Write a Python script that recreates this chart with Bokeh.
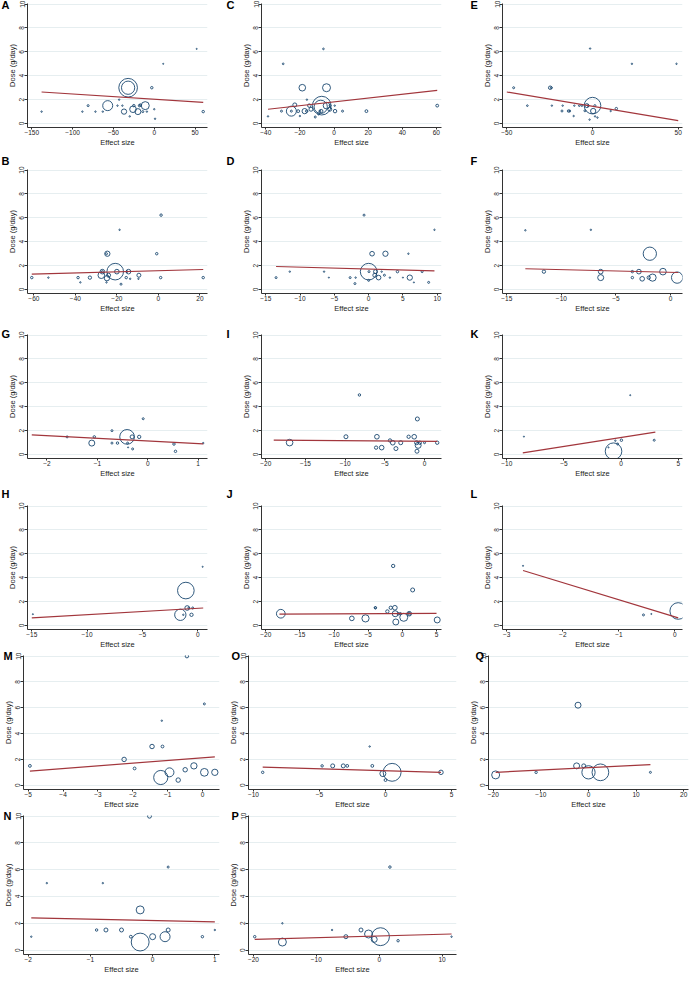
import math
from bokeh.plotting import figure
from bokeh.layouts import row, column
from bokeh.models import FixedTicker, Range1d
from bokeh.embed import file_html
from bokeh.resources import INLINE

# ---------------- data (effect size, dose g/day, study weight) ----------------
a_x = [-138, -88, -72, -81, -63, -57, -43, -45, -39, -37, -32, -32, -30, -25, -26, -20, -18, -17, -14, -11, -9, -3, 0, 1, 11, 52, 60]
a_y = [1, 1, 1, 1.5, 1, 1.5, 2, 1.5, 1.5, 1, 3, 3, 0.6, 1.5, 1.2, 1, 1.5, 1.55, 1, 1.5, 1, 3, 1.2, 0.4, 5, 6.25, 1]
a_w = [0.5, 0.5, 0.5, 1, 0.5, 25, 0.5, 0.5, 0.5, 7, 87, 44, 0.5, 1.5, 11, 9, 1.5, 1.5, 1, 16, 0.5, 1.5, 0.5, 0.5, 0.3, 0.3, 1.5]
a_fx = [-138, 60]
a_fy = [2.64, 1.78]
a_ticks = [-150, -100, -50, 0, 50]

c_x = [-38.7, -30.8, -29.8, -25, -25, -23, -21, -20, -18.6, -17.2, -16, -15.9, -14.5, -13.5, -11, -9, -8.3, -7.2, -7.8, -7.5, -6.2, -4.4, -4.4, -2.5, -2.3, 0.6, 0.4, 5, 19, 60.5]
c_y = [0.6, 1.04, 5.0, 1.04, 1.04, 1.56, 1.04, 0.63, 3.0, 1.04, 1.04, 2.0, 1.5, 1.2, 0.55, 0.8, 1.04, 1.5, 1.4, 1.04, 6.25, 3.0, 1.5, 1.2, 1.5, 1.04, 1.5, 1.04, 1.04, 1.5]
c_w = [0.5, 1, 0.7, 25, 1, 4, 2, 0.5, 11, 7, 1.5, 0.5, 3, 4, 1, 1, 1, 87, 44, 3, 0.7, 16, 11, 4, 1, 3, 0.5, 1, 2, 2]
c_fx = [-38.7, 60.5]
c_fy = [1.2, 2.77]
c_ticks = [-40, -20, 0, 20, 40, 60]

e_x = [-46, -38, -24.7, -24, -23.7, -17.8, -17.4, -14, -13.3, -11, -10.6, -7.7, -6.2, -4.4, -3.3, -2.5, -1.7, -1.4, 0, 0.4, 1.5, 2.9, 1.4, 10.6, 13.9, 23, 49]
e_y = [3, 1.5, 3, 3, 1.5, 1.05, 1.5, 1.05, 1.05, 0.63, 1.5, 1.5, 1.5, 1.07, 1.5, 1.5, 0.33, 6.28, 1.5, 1.05, 0.6, 0.5, 1.5, 1.05, 1.25, 5, 5]
e_w = [1, 0.7, 3, 1, 0.5, 1, 0.5, 1.5, 1, 0.5, 0.5, 0.7, 0.7, 1, 4, 1, 0.5, 0.5, 69, 7, 0.5, 0.5, 1, 0.5, 1.5, 0.5, 0.5]
e_fx = [-50, 50]
e_fy = [2.64, 0.25]
e_ticks = [-50, 0, 50]

b_x = [-61, -53, -38.7, -37.6, -33, -27, -27, -27.5, -24.6, -25, -25, -24.8, -24, -20.8, -20, -18.7, -18, -15.5, -14.4, -15.2, -13.6, -9.4, -9.6, -0.8, 1.3, 1.1, 21.6]
b_y = [1, 1, 1, 0.6, 1, 1.5, 1.5, 1.2, 3, 3, 0.6, 0.95, 1.2, 1.5, 1.5, 5, 0.45, 1, 1.5, 1.5, 0.9, 1.2, 0.9, 3, 6.23, 1, 1]
b_w = [1.5, 0.5, 1.5, 0.5, 2.8, 5.4, 1, 11, 7, 1, 0.5, 7, 4, 69, 5.4, 0.5, 1, 1.5, 5.4, 1, 0.5, 4, 0.5, 1.5, 1.5, 1.5, 1.5]
b_fx = [-61, 21.6]
b_fy = [1.29, 1.68]
b_ticks = [-60, -40, -20, 0, 20]

d_x = [-13.5, -11.5, -6.5, -5.8, -2.7, -2, -1.9, -0.67, 0, 0.05, 0, 0.5, 1.0, 0.9, 1.45, 1.9, 2.3, 2.45, 3.1, 4.2, 5, 5.8, 6.0, 6.6, 7.8, 8.75, 9.6]
d_y = [1, 1.5, 1.5, 1, 1, 0.5, 1, 6.23, 1.5, 1.5, 0.77, 3, 1.5, 1.2, 1, 1.5, 1.2, 3, 1, 1.5, 1, 3, 1, 0.6, 1.5, 0.6, 5]
d_w = [1, 0.5, 0.5, 0.3, 1, 1, 0.5, 1, 69, 1, 1, 5.4, 4, 4, 5.4, 0.5, 1, 7, 0.5, 1.5, 0.3, 0.5, 7, 0.3, 1, 1, 0.5]
d_fx = [-13.5, 9.6]
d_fy = [1.93, 1.57]
d_ticks = [-15, -10, -5, 0, 5, 10]

f_x = [-13.3, -11.6, -7.3, -6.4, -6.4, -3.5, -3.5, -2.9, -2.6, -2.0, -1.9, -1.65, -0.7, 0.6]
f_y = [4.96, 1.5, 5, 1.5, 1.0, 1.5, 1.0, 1.5, 0.9, 1.0, 3.0, 1.0, 1.5, 1.0]
f_w = [0.5, 2.8, 0.5, 5.4, 9, 1.5, 1.5, 5.4, 5.4, 2.8, 44, 13, 11, 32]
f_fx = [-13.3, 0.7]
f_fy = [1.74, 1.43]
f_ticks = [-15, -10, -5, 0]

g_x = [-1.6, -1.11, -1.06, -0.71, -0.71, -0.6, -0.41, -0.4, -0.39, -0.31, -0.3, -0.17, -0.09, 0.52, 0.55, 1.1]
g_y = [1.48, 0.96, 1.48, 2.0, 0.96, 0.96, 1.48, 0.96, 0.6, 1.48, 0.47, 1.48, 3.0, 0.88, 0.27, 0.96]
g_w = [1, 9, 1.5, 1, 1, 1.5, 54, 1, 0.3, 4, 1, 2.8, 1, 1.5, 1.5, 0.5]
g_fx = [-2.3, 1.1]
g_fy = [1.64, 0.9]
g_ticks = [-2, -1, 0, 1]

i_x = [-17.0, -9.9, -8.2, -6.1, -6.0, -5.4, -4.35, -4.0, -3.6, -3.0, -2.0, -1.3, -1.0, -0.9, -0.95, -0.8, -0.6, 0, 1.6]
i_y = [1.0, 1.49, 4.99, 0.58, 1.49, 0.58, 1.18, 0.99, 0.5, 0.99, 1.49, 1.49, 0.99, 2.98, 0.28, 0.77, 0.99, 0.99, 0.99]
i_w = [11, 4, 1.5, 2.8, 5.4, 5.4, 2.8, 5.4, 4, 4, 2.8, 5.4, 4, 4, 4, 9, 2.8, 1, 2.8]
i_fx = [-19, 1.6]
i_fy = [1.21, 1.1]
i_ticks = [-20, -15, -10, -5, 0]

k_x = [-8.5, 0.8, -0.66, -0.5, -0.3, -1.1, 0.03, 2.9]
k_y = [1.5, 4.97, 0.28, 1.16, 0.88, 0.6, 1.2, 1.2]
k_w = [0.3, 0.3, 69, 0.5, 1, 0.3, 1.5, 1]
k_fx = [-8.6, 3]
k_fy = [0.14, 1.88]
k_ticks = [-10, -5, 0, 5]

h_x = [-14.9, 0.45, -1.07, -1.57, -1.3, -0.95, -0.8, -0.56, -0.45]
h_y = [0.95, 4.92, 2.93, 0.9, 0.9, 1.47, 1.47, 0.9, 1.47]
h_w = [0.3, 0.3, 69, 32, 0.5, 5.4, 1, 2.8, 1]
h_fx = [-15, 0.5]
h_fy = [0.65, 1.47]
h_ticks = [-15, -10, -5, 0]

j_x = [-17.8, -7.4, -5.4, -3.95, -3.95, -2.2, -1.7, -1.35, -1.1, -1.05, -0.96, -0.6, -0.3, 0.2, 1.0, 1.0, 1.5, 5.1]
j_y = [0.99, 0.6, 0.6, 1.49, 1.49, 1.18, 1.49, 4.99, 1.49, 0.99, 0.3, 0.99, 0.99, 0.69, 0.99, 0.99, 2.98, 0.47]
j_w = [19, 5.4, 13, 1.5, 1, 2.8, 2.8, 2.8, 5.4, 9, 9, 1.5, 1.5, 16, 5.4, 2, 4, 9]
j_fx = [-18, 5]
j_fy = [0.96, 1.02]
j_ticks = [-20, -15, -10, -5, 0, 5]

l_x = [-2.71, -0.56, -0.42, 0.06]
l_y = [5.0, 0.89, 0.97, 1.22]
l_w = [0.3, 1, 0.3, 69]
l_fx = [-2.71, 0.06]
l_fy = [4.61, 0.64]
l_ticks = [-3, -2, -1, 0]

m_x = [-4.95, -2.25, -1.95, -1.45, -1.17, -1.15, -1.2, -0.95, -0.7, -0.5, -0.45, -0.25, 0.05, 0.05, 0.35]
m_y = [1.5, 2.0, 1.3, 3.0, 5.0, 3.0, 0.6, 1.0, 0.4, 1.2, 10, 1.5, 6.3, 1.0, 1.0]
m_w = [2, 5, 2, 5, 0.5, 2, 50, 20, 5, 5, 3, 10, 1, 15, 10]
m_fx = [-4.95, 0.35]
m_fy = [1.1, 2.2]
m_ticks = [-5, -4, -3, -2, -1, 0]

o_x = [-9.3, -4.8, -4.0, -3.2, -2.9, -1.2, -1.0, -0.2, 0, 0.5, 4.2]
o_y = [1.0, 1.5, 1.5, 1.5, 1.5, 3.0, 1.5, 0.9, 0.4, 1.0, 1.0]
o_w = [1.5, 1.5, 4, 4, 2, 0.5, 2, 9, 2, 80, 5]
o_fx = [-9.3, 4.2]
o_fy = [1.4, 1.0]
o_ticks = [-10, -5, 0, 5]

q_x = [-19.5, -11, -2.2, -2.5, -1, 0, 2.5, 13]
q_y = [0.8, 1.0, 6.2, 1.5, 1.5, 1.0, 1.0, 1.0]
q_w = [16, 1.5, 9, 9, 4, 44, 70, 1]
q_fx = [-19.5, 13]
q_fy = [1.0, 1.6]
q_ticks = [-20, -10, 0, 10, 20]

n_x = [-1.95, -1.7, -0.8, -0.05, 0.25, -0.2, -0.9, -0.75, -0.5, -0.35, -0.2, 0.0, 0.2, 0.25, 0.8, 1.0]
n_y = [1.0, 5.0, 5.0, 10, 6.2, 3.0, 1.5, 1.5, 1.5, 1.0, 0.6, 1.0, 1.0, 1.5, 1.0, 1.5]
n_w = [0.5, 0.5, 0.5, 4, 1, 16, 1.5, 4, 4, 2, 80, 9, 25, 4, 1.5, 0.5]
n_fx = [-1.95, 1.0]
n_fy = [2.4, 2.1]
n_ticks = [-2, -1, 0, 1]

p_x = [-19.8, -15.4, -15.4, -7.5, -5.3, -2.9, -1.7, -0.8, 0.2, 1.7, 3, 11.5]
p_y = [1.0, 0.6, 2.0, 1.5, 1.0, 1.5, 1.2, 0.8, 1.0, 6.2, 0.7, 1.0]
p_w = [1.5, 16, 0.5, 0.5, 4, 4, 16, 9, 80, 1.5, 1.5, 0.5]
p_fx = [-19.8, 11.5]
p_fy = [0.8, 1.2]
p_ticks = [-20, -10, 0, 10]

y_ticks = [0, 2, 4, 6, 8, 10]

# ---------------- style / layout ----------------
NAVY = "#1a476f"
MAROON = "#a2363c"
GRID = "#e6eef0"
FONT = "Liberation Sans"
ROW_H = [124, 124, 124, 124, 134, 139]
ROW_T = [3, 20, 19, 24, 4, 4]
ROW_B = 22
LETTER_STANDOFF = [-15, 5, -11, 11, -13, -13]
# column geometry: rows A-L (upper) and rows M-Q (lower, wider panels)
GEOM_UPPER = dict(L=[27, 36, 33], W=[180, 180, 180], R=[18, 28, 2], off=[-26, -35, -32])
GEOM_LOWER = dict(L=[21, 21, 21], W=[196, 208, 200], R=[6, 9, 2], off=[-20, -17, -13])


def panel(letter, xs, ys, ws, fx, fy, ticks, r, c):
    g = GEOM_UPPER if r < 4 else GEOM_LOWER
    lo = min(ticks[0], min(xs), min(fx))
    hi = max(ticks[-1], max(xs), max(fx))
    pad = 0.025 * (hi - lo)
    p = figure(frame_width=g["W"][c], frame_height=ROW_H[r],
               x_range=Range1d(lo - pad, hi + pad), y_range=Range1d(-0.33, 10.05),
               output_backend="svg", toolbar_location=None,
               min_border_left=g["L"][c], min_border_right=g["R"][c],
               min_border_top=ROW_T[r], min_border_bottom=ROW_B,
               outline_line_color=None, background_fill_color="white",
               border_fill_color="white")
    sizes = [2 * math.sqrt(w) for w in ws]
    p.scatter(xs, ys, size=sizes, marker="circle", fill_color=None,
              line_color=NAVY, line_width=0.9)
    p.line(fx, fy, line_color=MAROON, line_width=1.2)
    p.xaxis.ticker = FixedTicker(ticks=ticks)
    p.yaxis.ticker = FixedTicker(ticks=y_ticks)
    p.xaxis.axis_label = "Effect size"
    p.yaxis.axis_label = "Dose (g/day)"
    for ax in (p.xaxis[0], p.yaxis[0]):
        ax.axis_label_text_font = FONT
        ax.axis_label_text_font_size = "7.5px"
        ax.axis_label_text_font_style = "normal"
        ax.axis_label_text_color = "#222222"
        ax.major_label_text_font = FONT
        ax.major_label_text_font_size = "6.5px"
        ax.major_label_text_color = "#222222"
        ax.axis_line_color = "#333333"
        ax.major_tick_line_color = "#333333"
        ax.major_tick_in = 0
        ax.minor_tick_line_color = None
        ax.major_label_standoff = 0
        ax.axis_label_standoff = 0
    p.xaxis.major_tick_out = 2
    p.yaxis.major_tick_out = 3
    p.yaxis.major_label_orientation = "vertical"
    p.xgrid.grid_line_color = None
    p.ygrid.grid_line_color = GRID
    p.ygrid.grid_line_width = 1
    # panel letter as the figure title, pulled left over the y-axis area
    p.title.text = letter
    p.title.align = "left"
    p.title.offset = g["off"][c]
    p.title.standoff = LETTER_STANDOFF[r]
    p.title.vertical_align = "bottom"
    p.title.text_font = FONT
    p.title.text_font_size = "11px"
    p.title.text_font_style = "bold"
    p.title.text_color = "black"
    return p


panels = [
    [("A", a_x, a_y, a_w, a_fx, a_fy, a_ticks), ("C", c_x, c_y, c_w, c_fx, c_fy, c_ticks), ("E", e_x, e_y, e_w, e_fx, e_fy, e_ticks)],
    [("B", b_x, b_y, b_w, b_fx, b_fy, b_ticks), ("D", d_x, d_y, d_w, d_fx, d_fy, d_ticks), ("F", f_x, f_y, f_w, f_fx, f_fy, f_ticks)],
    [("G", g_x, g_y, g_w, g_fx, g_fy, g_ticks), ("I", i_x, i_y, i_w, i_fx, i_fy, i_ticks), ("K", k_x, k_y, k_w, k_fx, k_fy, k_ticks)],
    [("H", h_x, h_y, h_w, h_fx, h_fy, h_ticks), ("J", j_x, j_y, j_w, j_fx, j_fy, j_ticks), ("L", l_x, l_y, l_w, l_fx, l_fy, l_ticks)],
    [("M", m_x, m_y, m_w, m_fx, m_fy, m_ticks), ("O", o_x, o_y, o_w, o_fx, o_fy, o_ticks), ("Q", q_x, q_y, q_w, q_fx, q_fy, q_ticks)],
    [("N", n_x, n_y, n_w, n_fx, n_fy, n_ticks), ("P", p_x, p_y, p_w, p_fx, p_fy, p_ticks)],
]

rows = []
for r, specs in enumerate(panels):
    figs = [panel(*spec, r, c) for c, spec in enumerate(specs)]
    rows.append(row(*figs, spacing=0))
layout = column(*rows, spacing=0)

open("out.html", "w").write(file_html(layout, INLINE))
